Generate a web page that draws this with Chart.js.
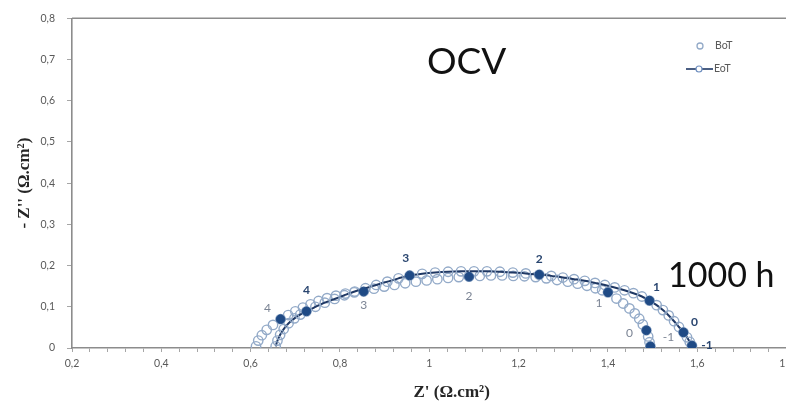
<!DOCTYPE html>
<html>
<head>
<meta charset="utf-8">
<script src="https://cdn.jsdelivr.net/npm/chart.js@4"></script>
<style>
  html, body { margin: 0; padding: 0; background: #ffffff; overflow: hidden; }
  #wrap { width: 786px; height: 412px; overflow: hidden; position: relative; }
  canvas { display: block; }
</style>
</head>
<body>
<div id="wrap"><canvas id="nyquist" width="884" height="412"></canvas></div>
<script>
// Nyquist plot at OCV, 1000 h: Z' and -Z'' in Ω.cm²
// Beginning of test (BoT), high frequency -> low frequency
const botZre = [0.612, 0.617, 0.625, 0.636, 0.650, 0.667, 0.684, 0.700, 0.717, 0.734,
                0.752, 0.771, 0.791, 0.812, 0.832, 0.853, 0.876, 0.899, 0.922, 0.946,
                0.970, 0.994, 1.018, 1.042, 1.066, 1.089, 1.113, 1.138, 1.163, 1.188,
                1.213, 1.238, 1.262, 1.286, 1.310, 1.332, 1.353, 1.372, 1.387, 1.400,
                1.419, 1.434, 1.448, 1.460, 1.470, 1.478, 1.486, 1.490, 1.493, 1.495];
const botZim = [0.004, 0.018, 0.031, 0.044, 0.056, 0.070, 0.080, 0.089, 0.098, 0.106,
                0.114, 0.121, 0.127, 0.132, 0.135, 0.137, 0.144, 0.149, 0.153, 0.157,
                0.161, 0.164, 0.167, 0.170, 0.172, 0.173, 0.175, 0.176, 0.176, 0.175,
                0.174, 0.172, 0.169, 0.165, 0.161, 0.156, 0.151, 0.145, 0.140, 0.135,
                0.120, 0.108, 0.096, 0.084, 0.071, 0.057, 0.043, 0.028, 0.014, 0.004];

// End of test (EoT)
const eotZre = [0.656, 0.660, 0.666, 0.674, 0.685, 0.698, 0.711, 0.725, 0.745, 0.766,
                0.788, 0.810, 0.833, 0.857, 0.881, 0.906, 0.931, 0.956, 0.984, 1.013,
                1.042, 1.071, 1.100, 1.129, 1.158, 1.187, 1.216, 1.246, 1.273, 1.299,
                1.324, 1.348, 1.371, 1.393, 1.415, 1.437, 1.457, 1.476, 1.493, 1.509,
                1.523, 1.536, 1.548, 1.559, 1.569, 1.577, 1.583, 1.588];
const eotZim = [0.004, 0.018, 0.032, 0.046, 0.060, 0.072, 0.081, 0.089, 0.100, 0.110,
                0.119, 0.128, 0.137, 0.145, 0.153, 0.161, 0.169, 0.176, 0.180, 0.183,
                0.185, 0.186, 0.186, 0.186, 0.185, 0.183, 0.181, 0.178, 0.175, 0.171,
                0.167, 0.163, 0.158, 0.153, 0.147, 0.140, 0.133, 0.125, 0.115, 0.104,
                0.092, 0.079, 0.065, 0.051, 0.038, 0.026, 0.015, 0.006];

// Frequency decade markers, log10(f / Hz)
const decadeLabels = ['4', '3', '2', '1', '0', '-1'];
const botDecZre = [0.667, 0.853, 1.089, 1.400, 1.486, 1.495];
const botDecZim = [0.070, 0.137, 0.173, 0.135, 0.043, 0.004];
const eotDecZre = [0.725, 0.956, 1.246, 1.493, 1.569, 1.588];
const eotDecZim = [0.089, 0.176, 0.178, 0.115, 0.038, 0.006];

// Axis ranges and tick steps
const xRange = [0.2, 2.0];
const xMajorStep = 0.2;
const xMinorPerMajor = 5;
const yRange = [0, 0.8];
const yStep = 0.1;

const seriesNames = ['BoT', 'EoT'];
const titleText = 'OCV';
const durationText = '1000 h';
const xTitle = "Z' (\u03A9.cm\u00B2)";
const yTitle = "- Z'' (\u03A9.cm\u00B2)";

// Label placement around the decade markers (pixel offsets)
const botLabelOffsets = [[-13, -11], [0, 14], [0, 19], [-9, 11], [-17, 3], [18, -9]];
const eotLabelOffsets = [[0, -21], [-4, -17], [0, -16], [7, -13], [11, -10], [15, 0]];

const circleColor = '#93aac8';
const lineColor = '#1f3864';
const dotColor = '#1f4a85';
const axisColor = '#8c8c8c';
const tickTextColor = '#595959';

const toPoints = (xs, ys) => xs.map((x, i) => ({ x: x, y: ys[i] }));
const commaNum = v => {
  const r = Math.round(v * 10) / 10;
  return Number.isInteger(r) ? String(r) : r.toFixed(1).replace('.', ',');
};

const decadeLabelPlugin = {
  id: 'decadeLabels',
  afterDatasetsDraw(chart) {
    const ctx = chart.ctx;
    const specs = [
      { idx: 0, offsets: botLabelOffsets, color: '#7b8494', font: '12px Lato' },
      { idx: 1, offsets: eotLabelOffsets, color: '#2a4670', font: 'bold 12px Lato' }
    ];
    ctx.save();
    ctx.textAlign = 'center';
    ctx.textBaseline = 'middle';
    specs.forEach(s => {
      const meta = chart.getDatasetMeta(s.idx);
      ctx.fillStyle = s.color;
      ctx.font = s.font;
      meta.data.forEach((pt, i) => {
        const o = s.offsets[i];
        ctx.fillText(decadeLabels[i], pt.x + o[0], pt.y + o[1]);
      });
    });
    ctx.restore();
  }
};

const decorPlugin = {
  id: 'decor',
  beforeDatasetsDraw(chart) {
    const { ctx, chartArea: a } = chart;
    ctx.save();
    ctx.strokeStyle = axisColor;
    ctx.lineWidth = 1.6;
    ctx.beginPath();
    ctx.moveTo(a.left, a.top);
    ctx.lineTo(a.right, a.top);
    ctx.lineTo(a.right, a.bottom);
    ctx.stroke();
    ctx.restore();
  },
  afterDraw(chart) {
    const { ctx, chartArea: a, scales } = chart;
    ctx.save();
    // panel captions
    ctx.fillStyle = '#111111';
    ctx.textAlign = 'left';
    ctx.textBaseline = 'alphabetic';
    ctx.font = '37px Lato';
    ctx.fillText(titleText, 427, 74);
    ctx.font = '34px Lato';
    ctx.fillText(durationText, 668, 287);

    // axis titles
    ctx.fillStyle = '#262626';
    ctx.font = 'bold 17px "Liberation Serif"';
    ctx.textAlign = 'center';
    ctx.textBaseline = 'middle';
    ctx.fillText(xTitle, scales.x.getPixelForValue(1.05), 393);
    ctx.save();
    ctx.translate(25, (a.top + a.bottom) / 2);
    ctx.rotate(-Math.PI / 2);
    ctx.fillText(yTitle, 0, 0);
    ctx.restore();

    // legend
    const ds = chart.data.datasets;
    ctx.font = '10.5px Lato';
    ctx.fillStyle = tickTextColor;
    ctx.textAlign = 'left';
    ctx.strokeStyle = circleColor;
    ctx.lineWidth = 1.3;
    ctx.beginPath();
    ctx.arc(700, 46, 3, 0, Math.PI * 2);
    ctx.stroke();
    ctx.fillText(ds[2].label, 715, 46);
    ctx.strokeStyle = lineColor;
    ctx.lineWidth = 1.6;
    ctx.beginPath();
    ctx.moveTo(686, 69);
    ctx.lineTo(713, 69);
    ctx.stroke();
    ctx.strokeStyle = '#6f8fbf';
    ctx.lineWidth = 1.2;
    ctx.fillStyle = '#ffffff';
    ctx.beginPath();
    ctx.arc(699, 69, 3, 0, Math.PI * 2);
    ctx.fill();
    ctx.stroke();
    ctx.fillStyle = tickTextColor;
    ctx.fillText(ds[3].label, 714, 69);
    ctx.restore();
  }
};

new Chart(document.getElementById('nyquist'), {
  type: 'scatter',
  data: {
    datasets: [
      {
        label: 'BoT decades',
        data: toPoints(botDecZre, botDecZim),
        pointStyle: 'circle',
        pointRadius: 4.3,
        pointBackgroundColor: dotColor,
        pointBorderColor: dotColor,
        pointBorderWidth: 1,
        showLine: false,
        order: 0
      },
      {
        label: 'EoT decades',
        data: toPoints(eotDecZre, eotDecZim),
        pointStyle: 'circle',
        pointRadius: 4.3,
        pointBackgroundColor: dotColor,
        pointBorderColor: dotColor,
        pointBorderWidth: 1,
        showLine: false,
        order: 1
      },
      {
        label: seriesNames[0],
        data: toPoints(botZre, botZim),
        pointStyle: 'circle',
        pointRadius: 4.7,
        pointBackgroundColor: 'rgba(255,255,255,0)',
        pointBorderColor: circleColor,
        pointBorderWidth: 1.4,
        showLine: false,
        order: 3
      },
      {
        label: seriesNames[1],
        data: toPoints(eotZre, eotZim),
        pointStyle: 'circle',
        pointRadius: 4.7,
        pointBackgroundColor: 'rgba(255,255,255,0)',
        pointBorderColor: circleColor,
        pointBorderWidth: 1.4,
        showLine: true,
        borderColor: lineColor,
        borderWidth: 2,
        tension: 0.3,
        order: 2
      }
    ]
  },
  options: {
    responsive: false,
    animation: false,
    devicePixelRatio: 1,
    layout: { padding: { left: 0, top: 15, right: 6, bottom: 0 } },
    plugins: {
      legend: { display: false },
      tooltip: { enabled: false },
      title: { display: false }
    },
    scales: {
      x: {
        type: 'linear',
        min: xRange[0],
        max: xRange[1],
        afterBuildTicks(scale) {
          const n = Math.round((xRange[1] - xRange[0]) / xMajorStep) * xMinorPerMajor;
          const ticks = [];
          for (let i = 0; i <= n; i++) {
            ticks.push({ value: Math.round((xRange[0] + i * xMajorStep / xMinorPerMajor) * 1000) / 1000, major: i % xMinorPerMajor === 0 });
          }
          scale.ticks = ticks;
        },
        afterFit(scale) { scale.height = 64; },
        ticks: {
          autoSkip: false,
          maxRotation: 0,
          padding: 5,
          color: tickTextColor,
          font: { family: 'Lato', size: 10.5 },
          callback(value, index) {
            return index % xMinorPerMajor === 0 ? commaNum(value) : '';
          }
        },
        grid: {
          drawOnChartArea: false,
          drawTicks: true,
          tickLength: 4,
          color: '#a6a6a6'
        },
        border: { display: true, color: axisColor, width: 1.6 }
      },
      y: {
        type: 'linear',
        min: yRange[0],
        max: yRange[1],
        ticks: {
          stepSize: yStep,
          padding: 12,
          color: tickTextColor,
          font: { family: 'Lato', size: 10.5 },
          callback(value) { return commaNum(value); }
        },
        afterFit(scale) { scale.width = 72; },
        grid: {
          drawOnChartArea: false,
          drawTicks: true,
          tickLength: 5,
          color: '#a6a6a6'
        },
        border: { display: true, color: axisColor, width: 1.6 }
      }
    }
  },
  plugins: [decadeLabelPlugin, decorPlugin]
});
</script>
</body>
</html>
